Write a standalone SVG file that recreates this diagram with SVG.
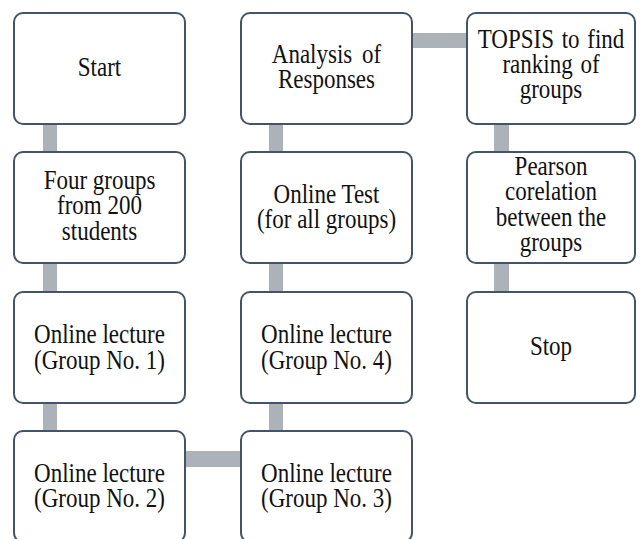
<svg xmlns="http://www.w3.org/2000/svg" width="640" height="539" viewBox="0 0 640 539">
<style>
.box{fill:#ffffff;stroke:#435469;stroke-width:2}
.con{fill:#adb1b8;stroke:none}
.t{font-family:"Liberation Serif","Times New Roman",serif;font-size:23px;fill:#111111;text-anchor:middle}
</style>
<rect width="640" height="539" fill="#ffffff"/>
<g id="connectors">
<rect class="con" x="43" y="120" width="14" height="36"/>
<rect class="con" x="43" y="260" width="14" height="36"/>
<rect class="con" x="43" y="400" width="14" height="35"/>
<rect class="con" x="181" y="451" width="64" height="16"/>
<rect class="con" x="269" y="400" width="14" height="35"/>
<rect class="con" x="269" y="260" width="14" height="36"/>
<rect class="con" x="269" y="120" width="14" height="36"/>
<rect class="con" x="408" y="33" width="63" height="15"/>
<rect class="con" x="494" y="120" width="15" height="36"/>
<rect class="con" x="494" y="260" width="15" height="36"/>
</g>
<g id="start">
<rect class="box" x="14" y="13" width="171" height="111" rx="9"/>
<text class="t" transform="translate(99.5,76) scale(1,1.17)">Start</text>
</g>
<g id="four-groups">
<rect class="box" x="14" y="152" width="171" height="111" rx="9"/>
<text class="t" transform="translate(99.5,188.5) scale(1,1.17)"><tspan x="0" y="0">Four groups</tspan><tspan x="0" dy="21.9">from 200</tspan><tspan x="0" dy="22">students</tspan></text>
</g>
<g id="group1">
<rect class="box" x="14" y="292" width="171" height="111" rx="9"/>
<text class="t" transform="translate(99.5,343) scale(1,1.17)"><tspan x="0" y="0">Online lecture</tspan><tspan x="0" dy="22.2">(Group No. 1)</tspan></text>
</g>
<g id="group2">
<rect class="box" x="14" y="431" width="171" height="111" rx="9"/>
<text class="t" transform="translate(99.5,481.5) scale(1,1.17)"><tspan x="0" y="0">Online lecture</tspan><tspan x="0" dy="22.2">(Group No. 2)</tspan></text>
</g>
<g id="group3">
<rect class="box" x="241" y="431" width="171" height="111" rx="9"/>
<text class="t" transform="translate(326.5,481.5) scale(1,1.17)"><tspan x="0" y="0">Online lecture</tspan><tspan x="0" dy="22.2">(Group No. 3)</tspan></text>
</g>
<g id="group4">
<rect class="box" x="241" y="292" width="171" height="111" rx="9"/>
<text class="t" transform="translate(326.5,343) scale(1,1.17)"><tspan x="0" y="0">Online lecture</tspan><tspan x="0" dy="22.2">(Group No. 4)</tspan></text>
</g>
<g id="online-test">
<rect class="box" x="241" y="152" width="171" height="111" rx="9"/>
<text class="t" transform="translate(326.5,202.5) scale(1,1.17)"><tspan x="0" y="0">Online Test</tspan><tspan x="0" dy="21.8">(for all groups)</tspan></text>
</g>
<g id="analysis">
<rect class="box" x="241" y="13" width="171" height="111" rx="9"/>
<text class="t" transform="translate(326.5,63) scale(1,1.17)"><tspan x="0" y="0" word-spacing="4">Analysis of</tspan><tspan x="0" dy="21.4">Responses</tspan></text>
</g>
<g id="topsis">
<rect class="box" x="467" y="13" width="168" height="111" rx="9"/>
<text class="t" transform="translate(551,47.5) scale(1,1.17)"><tspan x="0" y="0" word-spacing="2">TOPSIS to find</tspan><tspan x="0" dy="21.8" word-spacing="2">ranking of</tspan><tspan x="0" dy="21.8">groups</tspan></text>
</g>
<g id="pearson">
<rect class="box" x="467" y="152" width="168" height="111" rx="9"/>
<text class="t" transform="translate(551,175) scale(1,1.17)"><tspan x="0" y="0">Pearson</tspan><tspan x="0" dy="21.8">corelation</tspan><tspan x="0" dy="21.8">between the</tspan><tspan x="0" dy="21.4">groups</tspan></text>
</g>
<g id="stop">
<rect class="box" x="467" y="292" width="168" height="111" rx="9"/>
<text class="t" transform="translate(551,355) scale(1,1.17)">Stop</text>
</g>
</svg>
